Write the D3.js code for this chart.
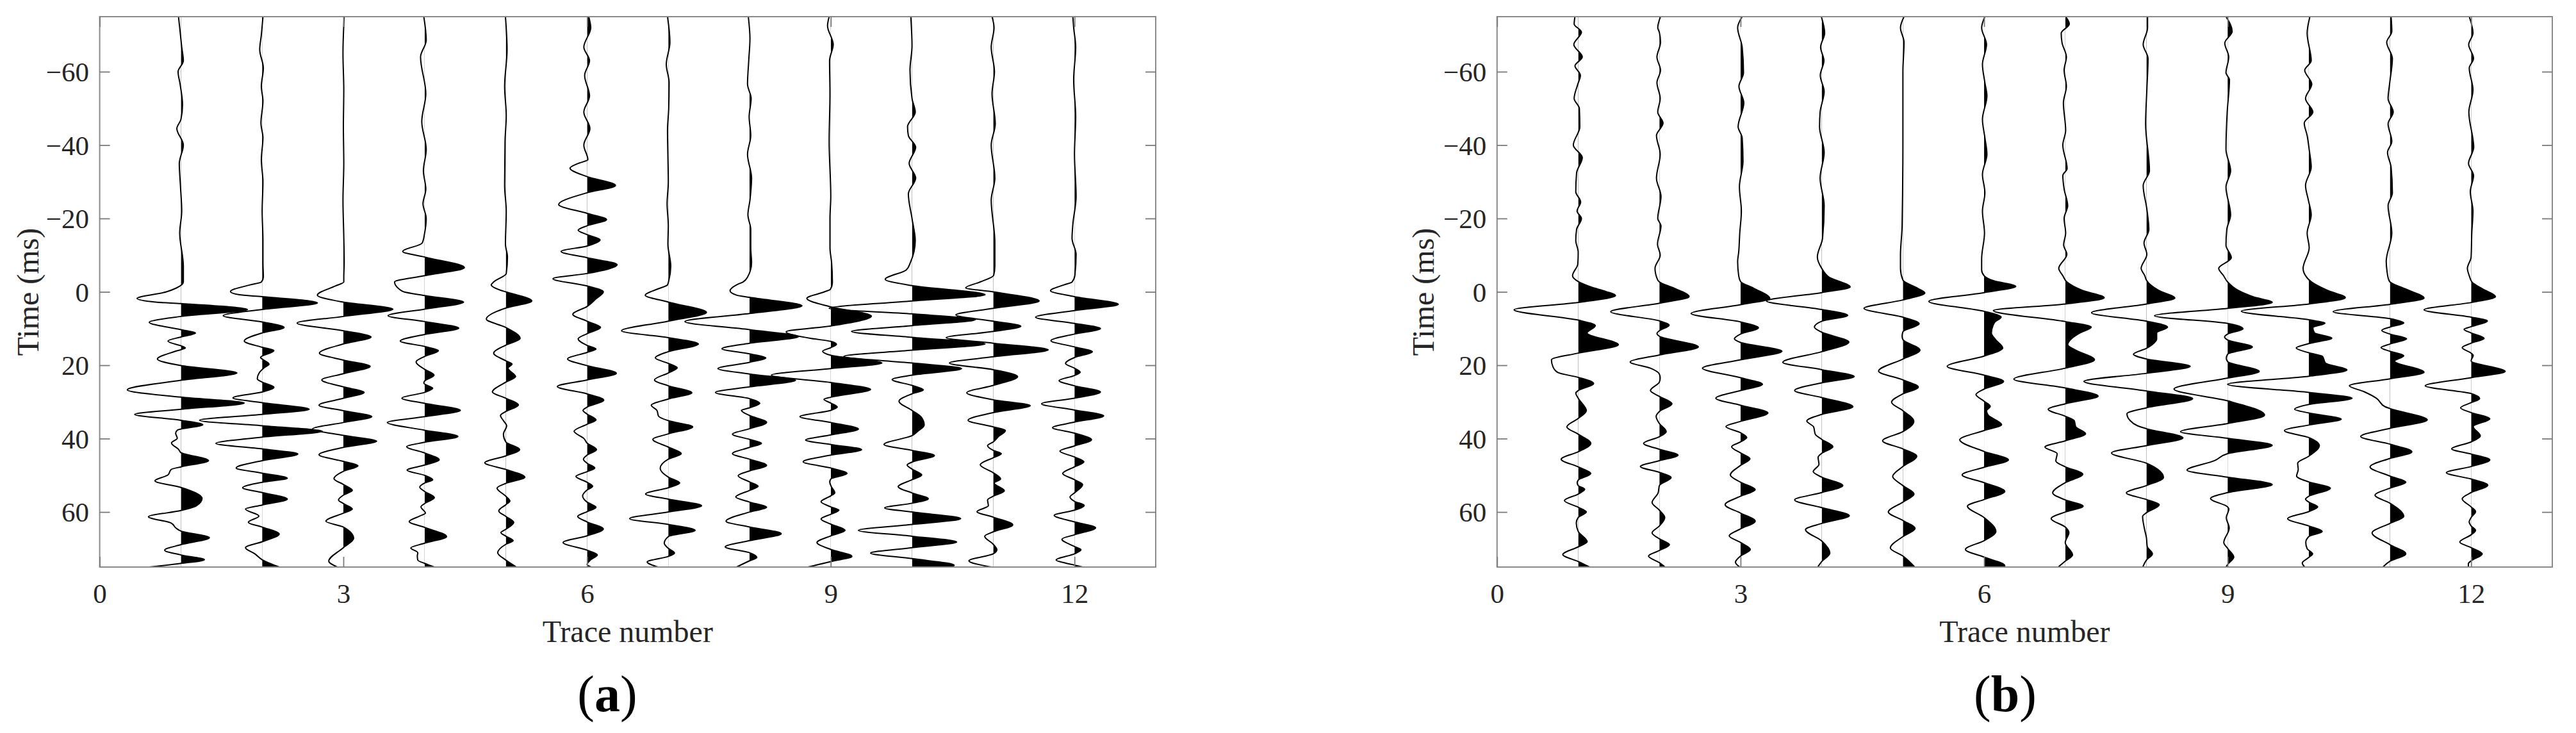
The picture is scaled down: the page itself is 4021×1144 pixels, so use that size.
<!DOCTYPE html>
<html><head><meta charset="utf-8">
<script src="https://cdn.jsdelivr.net/npm/d3@7"></script>
<style>html,body{margin:0;background:#fff}svg{display:block}</style></head>
<body><svg id="c" width="4021" height="1144"></svg>
<script>
// Each trace: [time in ms, amplitude in % of one trace spacing]
const a1=[[-75,-3],[-72,-1.5],[-66.7,1],[-63,3],[-60,-3.5],[-56.6,-1],[-51,2],[-47,0],[-44.5,-5],[-40,3],[-35,-2],[-28.6,-.5],[-22,1],[-16,-1.5],[-7,3],[-2.7,3],[-1,-6],[0,-18],[1.8,-54],[2.8,-31],[3.2,0],[4.8,82],[6.7,0],[8.3,-39],[10.3,0],[11.2,18],[12.3,0],[13.4,-16],[15.3,5.5],[16.2,-7],[18.3,-29],[20.1,0],[22.1,69],[24.1,0],[26.7,-66],[28.7,0],[30.3,78],[32,0],[33.4,-57],[35,0],[36.2,27],[37.7,-4.5],[38.5,-6.5],[39.9,-4.5],[41.2,-11.6],[42.9,-3],[43.8,0],[46,34],[47.7,0],[48.4,-12],[49.9,-16],[51.5,-32],[53.3,0],[56.3,26],[58.3,19],[59.6,0],[61.3,-40],[63,-12],[64.4,-6],[65.2,0],[67,35],[68.9,0],[70.4,-20],[71.7,0],[73,29],[74,0],[75,-39]];
const a2=[[-75,1],[-70,-1],[-66,-3],[-61,1.5],[-56,-1],[-52,1],[-46,-1.5],[-42,1],[-36,-1],[-30,1],[-22,0],[-14,1],[-8,1],[-4,1.5],[-2.7,-1],[-1.9,-15],[-.1,-39],[.8,-28],[1.3,0],[3,68],[4.8,0],[6.5,-48],[8.2,0],[9.7,27],[11.2,0],[13.4,-22],[15.1,0],[16,14.5],[17.9,-2],[18.3,0],[19.7,8.5],[20.6,3],[22,-3.4],[23.7,-6],[24.6,0],[26,14.5],[27.3,0],[28.9,-36],[30.2,0],[32,58],[33.4,0],[35,-77],[36.5,0],[38,74],[39.6,0],[41.3,-57],[42.8,0],[44.2,44],[46,0],[48,-32],[49.4,0],[50.8,31],[51.9,0],[53.4,-24],[54.7,0],[56.5,31],[58.1,0],[59.2,-20.5],[61.1,-4],[62.8,-17],[64.1,0],[66,21],[68.1,0],[69.7,-20.5],[71.4,-9],[73,0],[75,21]];
const a3=[[-75,1],[-65,-.5],[-55,.5],[-45,0],[-35,.5],[-25,-.5],[-15,.5],[-8,1],[-4,.5],[-2.7,.5],[-1.6,-10],[.9,-32],[2.8,0],[4.7,61],[6.7,0],[8.5,-57],[10.6,0],[12.3,34],[14.2,0],[16.7,-29.5],[18.6,0],[20.3,33],[22.3,0],[24,-26.6],[25.9,0],[27.4,25.5],[29,0],[30.9,-30],[32.4,0],[34,35],[35.6,0],[37.4,-38],[39.1,0],[40.7,41],[42.4,0],[44.4,-30],[46.2,0],[47.4,18],[48.9,0],[50.9,-11.6],[52.5,0],[54.1,11],[55.4,0],[56.7,-6],[57.7,0],[59.2,11],[60.3,0],[62.5,-21.5],[64.1,0],[67.2,12.6],[69.7,0],[73.4,-18],[75,-7.6]];
const a4=[[-75,-1],[-68.6,2],[-64,-5],[-54,1.5],[-46.4,-3.5],[-38.8,2],[-33,-1.5],[-28,1.5],[-24,-2],[-20,2],[-16,0],[-13.3,-3],[-11,-27],[-9.5,0],[-6.6,49],[-4.4,0],[-2.7,-37],[-.7,-31],[0,-25.5],[1,0],[2.8,48],[4.7,0],[6.5,-45],[8.1,0],[9.9,42],[11.6,0],[13.4,-30],[14.9,0],[16,17],[17.6,0],[19.1,-10.5],[21.1,0],[22.7,11.6],[24.3,0],[24.9,-1],[26.3,10],[27.4,0],[29,-28],[30.4,0],[32.3,44],[34,0],[35.6,-46],[37.7,0],[39.4,41],[41,0],[42.2,-22],[43.9,0],[45.8,18],[47.2,0],[48.6,-21.6],[50,0],[51.2,10],[52.1,0],[53.2,-6],[54.4,0],[56.1,12],[57.7,0],[58.6,-4.5],[60.3,1],[61.1,-6],[62.6,-19],[64.2,0],[66.7,27],[68.5,0],[69.8,-17],[71.1,-8.4],[72,-9],[73.1,-8.4],[74,0],[75,12]];
const a5=[[-75,-.5],[-66,1.5],[-56,-1.5],[-48,.5],[-41,-1],[-29,-1.5],[-22,.5],[-13,-.5],[-9.5,2],[-5,.5],[-2.7,-15],[-1.9,-18],[-.4,-6],[0,0],[2.5,32],[4.4,0],[7.4,-24],[9.7,0],[12.7,17.6],[14.5,0],[16.7,-15],[18.8,0],[19.7,7.6],[20.8,2.6],[23.1,12],[24.6,0],[27.3,-16.6],[29,0],[30.8,15.5],[32.6,0],[33.7,-6.6],[35.1,-3],[36.5,1],[38.8,-3],[40.9,0],[43,17],[44.7,0],[46.6,-26],[48.4,0],[50.5,23.4],[52.2,0],[53.5,-10.8],[55.7,0],[57,5],[58,0],[59.7,-8.7],[61.2,0],[62.8,9.7],[64.7,0],[65.6,-6],[66.6,0],[67.8,9],[68.8,0],[71.1,-10],[73.1,0],[75,13]];
const a6=[[-75,2],[-72,4.5],[-66.7,-4],[-63,3],[-59,-3],[-53.4,3],[-49,-4],[-44.5,3.5],[-40,-4],[-36,1],[-35,-11],[-33.7,-21],[-31.4,0],[-29,35],[-27,0],[-23.8,-35],[-21.4,0],[-19.7,24],[-18,0],[-16.8,-11],[-15.6,0],[-14.2,16],[-12.5,0],[-11,-32],[-9.3,0],[-7.4,37],[-5,0],[-3.6,-42],[-1.6,0],[0,20],[1.9,11],[4,0],[6.1,-17.6],[8,0],[9.7,16.6],[11.4,0],[12.8,-11],[14.6,0],[15.6,11],[16.5,0],[18.3,-24],[20.1,0],[22.2,36],[24,0],[25.8,-36.6],[27.8,0],[29.5,20.5],[31.4,0],[32.3,-5],[33.3,0],[34.9,11],[36.1,0],[38,-16],[40,-3.7],[41.2,0],[43,11.6],[44.5,0],[45.6,-4.5],[46.7,0],[48,9.5],[49,0],[50.3,-13.7],[51.9,0],[53,6.8],[54,0],[55.6,-5.5],[57.3,0],[58.7,11],[59.9,0],[61.2,-11.6],[62.7,0],[64.6,20],[66.5,0],[68.3,-29.5],[70.4,0],[71.7,12.6],[73.1,4],[74.3,0],[75,5]];
const a7=[[-75,-1],[-68,2],[-62,-2.5],[-57,1],[-50,.5],[-44,-1],[-37,-.5],[-30,0],[-24,-1.5],[-18,0],[-13,-.5],[-7,3],[-3,.5],[-1.9,-1],[-.7,-14],[.9,-28.4],[2.8,0],[5.6,47],[8,0],[10.6,-57.6],[12.5,0],[14.2,37],[16.3,0],[18,-16],[19.5,0],[20.7,11],[22.1,0],[24,-17],[25.6,0],[27.5,29],[29.2,0],[30.9,-21],[32.3,-14],[33.9,-12],[35.1,0],[36.8,30],[38.7,0],[40.2,-19],[42.3,0],[44.1,16],[45.6,0],[48.1,-10],[50.5,0],[52.1,14],[53.4,0],[55.1,-28],[56.5,0],[58.3,41],[60,0],[61.8,-47.6],[63.4,0],[65,33],[66.7,0],[68.5,-5],[69.9,0],[71.2,7.6],[72.1,0],[73.6,-26],[75,-12.6]];
const a8=[[-75,-1.5],[-69,.5],[-63,-1],[-56.6,-2.5],[-52.7,2],[-47.7,-.5],[-42.6,1.5],[-37.5,-2.5],[-31,2.5],[-25,.5],[-21,-2],[-17,1.5],[-12,1.5],[-8,2.5],[-4,-2.5],[-2.7,-8],[-1.9,-16],[-.3,-24],[.9,-16],[1.5,0],[3.8,64.5],[5.9,0],[8.1,-79.5],[10.3,0],[12.2,60.5],[14,0],[15.5,-34],[16.9,0],[18,20],[19.2,0],[20.9,-39],[22.4,0],[24.1,56.6],[25.9,0],[27.4,-42],[29.1,0],[30.4,12.6],[31.6,0],[32.3,-10],[33.7,0],[35.6,21],[37.3,0],[38.8,-21],[40.2,0],[41.3,14.7],[42.4,0],[44.1,-21],[45.6,0],[47.3,21],[48.8,0],[50.1,-14],[51.8,0],[53,10.5],[54.1,0],[55.9,-17],[57.3,0],[58.7,21],[60,0],[62.5,-29],[64.1,0],[65.9,39],[67.8,0],[69.5,-30],[71.1,0],[72.4,9],[73.3,0],[75,-16]];
const a9=[[-75,-2],[-72.5,-4],[-67.4,3],[-63,-1.5],[-54,-1],[-41,-2],[-26,0],[-20,-1],[-12,-1],[-8,1],[-2.5,2],[-.7,-.5],[0,-8],[1.8,-29.5],[4.1,0],[6.6,50],[9.3,0],[10.9,-55],[12.7,-24],[13.5,0],[14.3,7],[15.2,0],[16.2,-10],[17.3,0],[19.4,63],[20.9,0],[22.7,-73],[24.7,0],[26.6,49],[28.7,0],[29.3,-8.4],[30.3,0],[31.4,8],[32.3,0],[34,-38],[35.6,0],[37.4,34],[39,0],[40.4,-31],[41.6,0],[43,38],[44.5,0],[46.3,-34],[48,0],[49.5,20],[51,0],[51.8,-1.3],[53,.5],[54.8,5],[55.6,0],[57.2,-12],[58.6,0],[59.5,10],[60.6,0],[61.9,-12],[63.3,0],[65,17.6],[66.5,0],[68.3,-17],[70.2,0],[72.1,26],[73.5,0],[75,-28]];
const a10=[[-75,-1.5],[-67,0],[-60.4,-2.5],[-52.7,0],[-49,4],[-45,-5.5],[-42.6,-4.5],[-39.4,4.5],[-35,-3.5],[-31,4.5],[-26.7,-4.5],[-20,0],[-14,4],[-8,-2],[-6,-7],[-3.4,-33],[-1.7,0],[.8,90],[2.5,0],[4.5,-102],[6,0],[7.6,78],[9.2,0],[10.8,-74.5],[12.4,0],[14.2,90],[15.9,0],[17.6,-84],[19.4,0],[20.9,61],[22.7,0],[23.9,-24.5],[25.5,0],[26.7,14],[27.8,0],[29.8,-16],[32.3,0],[34.2,11.6],[36.3,15],[38,7],[39.2,0],[41.6,-34.5],[43.2,0],[44.6,27.6],[46.4,0],[47.2,-6],[48.3,0],[49.9,12],[51.2,0],[53.1,-17],[54.8,0],[56.4,20],[57.6,0],[58.9,-33.7],[60,0],[61.8,60],[63.4,0],[65,-66],[66.6,0],[68.2,55],[69.7,0],[71.2,-51],[72.7,0],[74.5,52],[75,48]];
const a11=[[-75,-1.5],[-72,1],[-66.7,-2.5],[-60,1.5],[-54,-1.5],[-45.8,2.5],[-40,-2.5],[-31,2],[-25,-2.5],[-13.5,2],[-7,2],[-4.5,.5],[-2.7,-16],[-1.1,-34],[0,0],[2.5,56.6],[4.5,0],[6.3,-46],[8,0],[9.4,34],[10.8,0],[12.5,-58],[14,0],[15.8,67.6],[17.7,0],[19.4,-54],[21.2,0],[23.1,30],[25.5,0],[27.5,-32.6],[29.4,0],[31,45.5],[32.9,0],[35,-31],[36.8,0],[37.8,15],[39.4,6.6],[40.9,0],[41.9,-7],[43.2,0],[44.1,10],[45.2,0],[47.1,-16],[49.3,0],[51,9],[52.1,1],[54.2,13.7],[55.7,0],[56.7,-7],[58.3,-6],[59.9,-20],[61.4,0],[63.5,24],[65.4,0],[66.6,-10.5],[68.8,0],[70.3,4.5],[71.4,0],[73.3,-30],[75,-2.6]];
const a12=[[-75,-2],[-72,-1],[-66.7,1.5],[-57.8,-1],[-47.7,1.5],[-37.5,0],[-26,2],[-18.4,-2],[-14.6,-3],[-10.2,2],[-4.5,.5],[-2.7,-3],[-1.9,-13],[-.3,-29.5],[1.3,0],[3.4,54],[5.1,0],[6.9,-48],[8.6,0],[10,32],[11.5,0],[13.3,-29],[15,0],[16.3,22],[17.9,0],[19.5,-11],[20.8,0],[21.9,7],[22.8,0],[24.2,-19],[25.6,0],[27.3,32],[29,0],[30.5,-40.5],[32.2,0],[33.8,36],[35.5,0],[37,-27],[38.5,0],[40.3,21],[42,0],[43.4,-18],[45,0],[46.3,11.6],[47.7,0],[49.5,-14.5],[51.2,0],[52.5,10],[54.8,0],[55.9,-5.5],[57.1,0],[58.2,12],[59.5,0],[60.9,-25],[62.7,0],[64.3,26],[66.2,0],[67.4,-15.5],[69.4,0],[70.3,8],[71.4,0],[73.1,-22.6],[74.3,-3],[75,10]];

const b1=[[-75,-4],[-73,-5],[-70.8,4],[-67.4,-5.4],[-64,5],[-61.6,-4],[-59,2.7],[-56.6,-.5],[-52.7,-5],[-50,1.4],[-45,2],[-40,-6],[-36.6,5],[-32.4,-2],[-27.3,-3],[-24.5,3],[-22,-1.4],[-20,4],[-17,-2],[-14,-3],[-10.8,0],[-7.6,-.5],[-4.4,-7],[-2.8,0],[-1.3,16],[-.1,34],[1,46],[2.9,0],[4.9,-79],[7.7,0],[9.2,21],[11.2,11],[14.4,49.5],[16.7,0],[18.5,-33],[20.5,-31],[22,-25],[23.3,0],[25,19],[26.9,0],[27.6,-3],[29,0],[32.4,10],[34.5,0],[36.8,-14],[38.8,0],[41.3,15.5],[43.6,0],[45.6,-21],[47.7,0],[49.5,15.5],[51.3,0],[52,-1.3],[52.8,0],[53.8,8],[55.1,0],[56.9,-17],[58.7,0],[60,10],[61.5,0],[63,-2.4],[65.3,0],[68.1,11],[69.5,0],[71.6,-19],[73.5,0],[75,14]];
const b2=[[-75,1.4],[-72,-2],[-70.7,0],[-68,1.4],[-64,-3],[-60.4,1.4],[-57,-3],[-52.7,1],[-49,-2],[-46,4.5],[-42.6,-3.6],[-37.5,1],[-31,-3.6],[-26,2],[-20,-2],[-18,2],[-13,-2.3],[-10,1],[-6.4,-5.4],[-3.2,-2],[-2.7,0],[-1,18],[1.3,36.6],[3.1,0],[5.4,-60],[7.9,0],[9.1,12],[10.6,0],[11.3,-3],[12.1,0],[15,48],[17.2,0],[19.1,-36],[20.8,-11],[22.4,0],[23.5,1],[24.6,0],[26.9,-11],[28.5,0],[30.5,15.5],[32.6,0],[33.9,-4],[35.9,0],[38.1,8.4],[39.5,0],[41.3,-19.5],[42.9,0],[44.5,23],[46,0],[47.6,-23.4],[49.2,0],[50.6,14.5],[52.8,0],[54.8,-1.6],[57.4,-9],[59.5,0],[61.5,6.6],[63.8,0],[65.7,-9],[67.3,0],[68.9,12.4],[70.5,0],[72,-13.4],[73.8,0],[75,7]];
const b3=[[-75,2],[-72,-3.6],[-66.7,2],[-59.7,3.6],[-56,-2],[-51.5,4],[-45,-3],[-42,2],[-35.6,3],[-28.6,-1.4],[-22,1],[-16,-1],[-10.8,-2.3],[-8.3,-3.6],[-4.4,-2.3],[-2.8,0],[-1,16],[1.8,36],[3.5,0],[5.9,-61],[8.2,0],[9.8,22],[11.5,0],[12.8,-7.6],[13.8,0],[16.2,51],[18.5,0],[20.8,-47],[23.4,0],[25.2,27],[26.9,0],[29,-30.5],[30.9,0],[33,33.7],[35.3,0],[36.7,-18],[38.4,0],[39.7,7.6],[40.9,0],[42.2,-11],[43.9,0],[45.5,11.6],[47.3,0],[49.9,-12.6],[51.9,0],[53.9,18],[55.7,0],[58,-19],[60.3,0],[62.5,18],[64.6,0],[66.5,-14],[68.3,0],[70.2,12],[72,0],[73.7,-6.3],[75,-1]];
const b4=[[-75,-.5],[-70.5,3.6],[-66.7,-1.4],[-63,2.7],[-59,-1.8],[-54.6,3],[-49,-2],[-45,-2.7],[-38,3],[-31,-2],[-23.5,3],[-14.6,1],[-9.5,-5.4],[-6.4,0],[-4,9],[-1.3,35],[.2,0],[2.5,-68],[4.8,0],[6.4,32],[8,0],[9.6,-9],[11,0],[13.7,33.4],[16.3,0],[19.2,-48],[21.2,0],[23.1,40],[24.8,0],[26.9,-33.4],[28.8,0],[31.3,38.4],[33.4,0],[35.2,-18.4],[36.8,-10],[38.8,-8],[40.2,0],[42.2,13.7],[44,0],[45.1,-4.5],[47,-3.4],[49,-10.5],[50.5,0],[52.8,26],[54.7,0],[56.7,-33.4],[58.8,0],[61,34],[63.1,0],[64.8,-20],[67.9,0],[71.2,10],[73.5,0],[75,-5]];
const b5=[[-75,1.4],[-72,-3],[-68,1.4],[-60,0],[-41,0],[-18,-1],[-10,-3],[-6.4,-3],[-3.2,0],[-1,18],[.3,27],[2.2,0],[4.5,-48],[6.9,0],[8.7,20],[10.9,0],[12.1,-1],[13,0],[15.9,21],[18.3,0],[21.6,-30],[24,0],[26,19],[27.8,0],[30.1,-14],[32.4,0],[35.3,13.4],[38.1,0],[40.6,-25],[42.8,0],[44.8,17],[47.6,0],[50.3,-12.6],[52.8,0],[55.1,13.7],[57.3,0],[60,-18],[62.3,0],[64.5,15],[66.7,0],[69.8,-15.5],[72,0],[75,14.5]];
const b6=[[-75,1],[-72,-3],[-67.4,3],[-62,-2],[-57,1],[-53.4,3.5],[-47,-2],[-42,1],[-37.5,3.5],[-32,-2],[-27,1],[-22,-2],[-16,.5],[-9,-3],[-6,-3],[-4.4,0],[-3,12],[-1.5,39],[.2,0],[2.6,-68],[5.3,0],[6.9,21],[8.3,13],[11.2,9],[13,14],[15.3,23],[17.5,0],[20.3,-45.5],[22.7,0],[24.4,24],[26.5,0],[28,-10],[29.8,0],[31.2,7.6],[32.4,3],[33.6,5],[36.2,21.6],[37.8,0],[40.3,-30],[43.5,0],[45.8,30],[47.8,0],[49.9,-27],[52,0],[54.4,25.5],[56.6,0],[58.4,-20.5],[61.5,0],[65.3,14.5],[67.8,0],[70.2,-23],[72.3,0],[74.6,25.5],[75,25]];
const b7=[[-75,.5],[-73,5],[-70.5,-5],[-67.9,-4],[-64,1.4],[-60.4,-1.4],[-56,1.4],[-51.5,-2.3],[-44,.5],[-40,-3],[-33.6,2.3],[-31.7,-3],[-28,-1.4],[-23.5,3],[-20,-1.4],[-16,.5],[-12.8,-2],[-10.2,2],[-6.4,-8],[-4.4,-3],[-2.7,2],[-.4,21],[1.6,48],[3.3,0],[5.1,-88.5],[8.1,0],[9.6,32],[11.2,18],[12.7,8],[14.4,3],[15.9,13],[18.5,36],[20.8,0],[23.8,-63.4],[26.2,0],[28.4,40.5],[30.5,0],[32,-21],[33.9,0],[35.1,11],[36.8,13],[38.7,25],[40.6,0],[42.3,-25],[44.1,-10],[46.1,-11.6],[47.7,0],[49.7,21.6],[52,0],[54.8,-15.5],[56.7,0],[58.4,22],[60,0],[61.8,-17.4],[64.1,0],[65.6,4.5],[68.3,0],[71.7,9],[73.4,0],[75,-8.7]];
const b8=[[-75,1.4],[-72,1.4],[-67.4,-4],[-63.6,2],[-55,.5],[-45.8,-1],[-33,3.7],[-29,-4],[-22.6,.5],[-17,3],[-13.3,-3],[-10.2,.5],[-6.4,-6.5],[-4.4,-2],[-3.2,0],[-.4,15],[1.7,35],[3.3,0],[5.7,-67.6],[8,0],[9.6,26],[11.2,12.6],[12.9,12.6],[14.4,7],[15.4,0],[17,-16],[18.3,0],[20.3,54],[22.2,0],[24.4,-77],[27,0],[29.1,57],[31.6,0],[33.2,-24],[35.1,-20],[36.5,-11],[37.3,0],[39.8,45],[41.9,0],[43.9,-43],[46.7,0],[48.4,14],[50.6,21],[52.8,0],[54.8,-24.7],[56.6,0],[58,15.8],[60.2,0],[61.2,-4.7],[64.4,-2.6],[67,0],[69.4,1],[71.4,7.4],[73.1,0],[75,-4.5]];
const b9=[[-75,-2],[-71,5.6],[-67.8,-3.5],[-64,1.4],[-59.7,-2],[-57.8,2.3],[-49,-.5],[-38.8,-2],[-33,3.7],[-28.6,-2],[-21,3.7],[-17,-1],[-12.7,-2],[-9.3,4.6],[-6.4,-11],[-4.4,-5],[-2.7,0],[-.4,13],[1.3,31],[2.9,55],[4.5,0],[6.5,-90],[8.6,0],[10.1,19],[11.5,0],[12.3,-3.7],[13.1,0],[15,30.5],[17,0],[18.1,-1.6],[19,0],[21.7,39],[23.5,0],[26.5,-66],[29.7,0],[33.6,45.5],[35.9,0],[38.1,-58],[39.9,0],[41.8,55],[44.1,0],[46,-16],[48.6,-50],[50.5,0],[52.5,55],[54.7,0],[56.3,-21],[58.6,0],[59.2,1.6],[61.5,-1.6],[64.4,2],[68.3,-4.7],[69.9,0],[72.3,7.6],[74.3,0],[75,-2]];
const b10=[[-75,1.4],[-70.5,-2],[-63,3],[-60.4,-5],[-56.6,3.7],[-52.7,-4],[-49,5],[-46,-5.6],[-42.6,-2],[-38.8,.5],[-34,3],[-29,-4],[-25,-.5],[-21,3],[-16,-2],[-12,.5],[-6.4,-7],[-3.8,-2],[-2.7,3.4],[-.4,23],[1.6,45],[3.3,0],[5.3,-83],[7.6,0],[8.5,20],[9.8,5],[11.2,7],[12.6,28.4],[14.1,0],[15.3,-15.5],[16.6,0],[17.6,17],[19.4,20.5],[21.3,47],[23,0],[25.2,-100],[27.4,0],[29,53.4],[30.7,0],[32,-17.4],[33,0],[34.7,40],[36.3,0],[37.8,-30],[39.7,0],[41.9,13],[44.8,0],[46.7,-13.7],[48.4,-13],[50.2,-15],[51.8,0],[53.5,26.6],[55.7,0],[56.5,-4],[57.3,0],[58.6,11],[59.9,0],[61.8,-26],[63.8,0],[65.3,16.6],[66.7,0],[68.3,-3.7],[70,-2],[71.4,4.7],[72.4,0],[73.9,-8],[75,-5]];
const b11=[[-75,1.4],[-71,2.3],[-68,-4],[-63.6,3],[-56.6,-.5],[-52.7,-2.3],[-49,4],[-45.8,-2.3],[-41,2.3],[-38,-3],[-34,1.4],[-27,3],[-23.5,-2.3],[-16,2.3],[-8.3,-4.6],[-5.8,-3.7],[-3.2,-1.4],[-2.7,0],[-.7,20],[1.7,42],[3.4,0],[5.4,-70],[7.3,0],[8.5,17],[9.6,0],[10.5,-10],[11.5,0],[12.8,20.5],[14.2,0],[15.2,-11],[16.2,0],[17.4,17],[18.9,5.8],[21.9,42],[23.7,0],[25.6,-50],[27.2,-32],[29,-16.6],[31.3,-6],[31.8,0],[34.9,46],[37.2,0],[39.4,-36],[41.5,0],[43.6,27],[45.4,0],[47.7,-24.5],[50.2,0],[51.9,19.5],[53.5,0],[55.4,-18.4],[57.6,0],[61.2,17],[63.1,0],[65.7,-22],[68.9,0],[71.4,19.5],[73.4,0],[75,-8.7]];
const b12=[[-75,-2.3],[-70.5,2.3],[-67.4,-3],[-63.6,3],[-61,-2.3],[-55,2.3],[-49,-2.8],[-39.4,3.2],[-35,-3.2],[-31.7,3],[-27.3,-1],[-22,2.3],[-16,.8],[-9.5,0],[-6.4,-4.6],[-4.4,-2.3],[-2.7,1],[-.8,14],[1.3,30],[2.9,0],[4.9,-58],[6.9,0],[7.9,20],[9.5,0],[10.2,-8.7],[11.2,0],[12.7,16],[14,0],[15.2,-11],[16.7,0],[17.3,2.6],[18.8,0],[21.7,42],[23.4,0],[25.6,-56.6],[27.7,0],[29.1,10.5],[30.2,0],[31.6,-13],[32.9,0],[34.6,23],[36.7,2.6],[39.3,11.3],[40.9,0],[42.8,-24],[44.2,0],[45.8,23],[47.6,0],[49.3,-30.5],[51,0],[52.7,20.5],[54.7,0],[56.4,-11],[58.6,0],[59.9,5.5],[61.5,0],[62.7,-2.4],[63.8,0],[65,5.5],[66.2,0],[68.2,-14],[69.7,0],[71.4,13.7],[73.3,0],[74.1,-3.4],[75,-3.4]];

const yTicks=[-60,-40,-20,0,20,40,60];
const xTicks=[0,3,6,9,12];
const xLabel="Trace number", yLabel="Time (ms)";

const panels=[
 {id:"a",traces:[a1,a2,a3,a4,a5,a6,a7,a8,a9,a10,a11,a12],left:155.6,right:1804,labelX:948,titleX:60},
 {id:"b",traces:[b1,b2,b3,b4,b5,b6,b7,b8,b9,b10,b11,b12],left:2336.8,right:3984,labelX:3130,titleX:2238}
];
const plotTop=26,plotBottom=885;
const svg=d3.select("#c");
const font="'Liberation Serif','Times New Roman',serif";
const defs=svg.append("defs");
const fmt=v=>String(v).replace("-","\u2212");

panels.forEach((p,pi)=>{
 const x=d3.scaleLinear().domain([0,13]).range([p.left,p.right]);
 const y=d3.scaleLinear().domain([-75,75]).range([plotTop,plotBottom]);
 const g=svg.append("g");
 defs.append("clipPath").attr("id","plot"+pi).append("rect")
   .attr("x",p.left).attr("y",plotTop).attr("width",p.right-p.left).attr("height",plotBottom-plotTop);
 const plot=g.append("g").attr("clip-path",`url(#plot${pi})`);
 p.traces.forEach((tr,i)=>{
  const n=i+1;
  const px=d=>x(n+d[1]/100);
  const cid=`pos${pi}_${n}`;
  defs.append("clipPath").attr("id",cid).append("rect")
    .attr("x",x(n)).attr("y",plotTop).attr("width",p.right-x(n)).attr("height",plotBottom-plotTop);
  const area=d3.area().curve(d3.curveMonotoneY).y(d=>y(d[0])).x0(x(n)).x1(px);
  const line=d3.line().curve(d3.curveMonotoneY).y(d=>y(d[0])).x(px);
  plot.append("g").attr("clip-path",`url(#${cid})`).append("path").attr("d",area(tr)).attr("fill","#000");
  plot.append("path").attr("d",line(tr)).attr("fill","none").attr("stroke","#000").attr("stroke-width",2);
 });
 const frameColor="#8a8a8a", tickLen=16;
 g.append("rect").attr("x",p.left).attr("y",plotTop).attr("width",p.right-p.left).attr("height",plotBottom-plotTop)
   .attr("fill","none").attr("stroke",frameColor).attr("stroke-width",2);
 const axY=g.append("g").attr("transform",`translate(${p.left},0)`)
   .call(d3.axisLeft(y).tickValues(yTicks).tickSizeInner(-tickLen).tickSizeOuter(0).tickFormat(fmt));
 const axYr=g.append("g").attr("transform",`translate(${p.right},0)`)
   .call(d3.axisRight(y).tickValues(yTicks).tickSizeInner(-tickLen).tickSizeOuter(0).tickFormat(""));
 const axX=g.append("g").attr("transform",`translate(0,${plotBottom})`)
   .call(d3.axisBottom(x).tickValues(xTicks).tickSizeInner(-tickLen).tickSizeOuter(0).tickFormat(d3.format("d")).tickPadding(25.5));
 const axXt=g.append("g").attr("transform",`translate(0,${plotTop})`)
   .call(d3.axisTop(x).tickValues(xTicks).tickSizeInner(-tickLen).tickSizeOuter(0).tickFormat(""));
 [axY,axYr,axX,axXt].forEach(a=>{
  a.select(".domain").remove();
  a.selectAll("line").attr("stroke","#7a7a7a").attr("stroke-width",1.8);
  a.selectAll("text").attr("font-family",font).attr("font-size",43).attr("fill","#262626");
 });
 axY.selectAll("text").attr("x",-16.5).attr("dy","0.34em");
 g.append("text").attr("x",(p.left+p.right)/2).attr("y",1002).attr("text-anchor","middle")
   .attr("font-family",font).attr("font-size",48).attr("fill","#262626").text(xLabel);
 g.append("text").attr("transform",`translate(${p.titleX},${(plotTop+plotBottom)/2}) rotate(-90)`).attr("text-anchor","middle")
   .attr("font-family",font).attr("font-size",48).attr("fill","#262626").text(yLabel);
 const lab=g.append("text").attr("x",p.labelX).attr("y",1110).attr("text-anchor","middle")
   .attr("font-family",font).attr("font-size",80).attr("fill","#000");
 lab.append("tspan").text("(");
 lab.append("tspan").attr("font-weight","bold").text(p.id);
 lab.append("tspan").text(")");
});
</script></body></html>
